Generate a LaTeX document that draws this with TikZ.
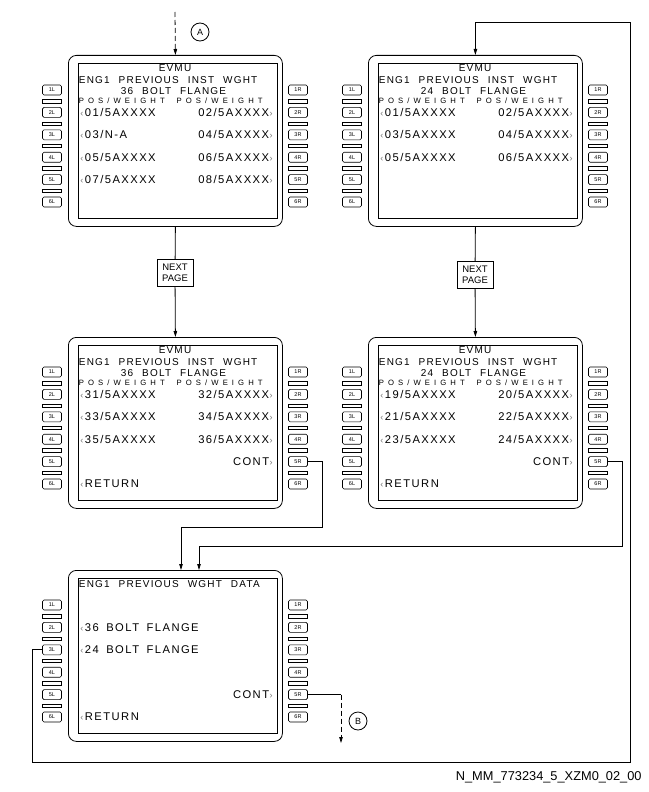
\documentclass[tikz,border=0pt]{standalone}
\usepackage{fontspec}
\usepackage{tikz}
\usetikzlibrary{arrows.meta,calc,positioning}
\setsansfont{Liberation Sans}
\newfontfamily\headfont[LetterSpace=12]{Liberation Sans}
\newfontfamily\rowfont[LetterSpace=13]{Liberation Sans}
\newfontfamily\posfont[LetterSpace=53]{Liberation Sans}
\newfontfamily\plainsans{Liberation Sans}
\newcommand{\headtext}{\headfont\fontsize{10}{11}\selectfont\spaceskip=9pt\relax}
\newcommand{\rowtext}{\rowfont\fontsize{11.2}{12}\selectfont\spaceskip=7.5pt\relax}
\newcommand{\lch}{{\plainsans\fontsize{9}{9}\selectfont\color{black!55}‹}\kern1.5pt}
\newcommand{\rch}{\kern0.5pt{\plainsans\fontsize{9}{9}\selectfont\color{black!55}›}}
% line select keys beside a display, #1 = prefix of the names
\newcommand{\cdukeys}[1]{%
  \foreach \i in {1,...,6} {%
    \node[lsk] (#1-L\i) at (-16,{35+22.4*(\i-1)}) {\i L};
    \node[lsk] (#1-R\i) at (230,{35+22.4*(\i-1)}) {\i R};
  }%
  \foreach \i in {1,...,5} {%
    \node[lskbar] (#1-lb\i) at (-16,{46.2+22.4*(\i-1)}) {};
    \node[lskbar] (#1-rb\i) at (230,{46.2+22.4*(\i-1)}) {};
  }%
}

\begin{document}
\begin{tikzpicture}[x=1pt,y=-1pt,line width=0.8pt]
        \tikzset{
          cdu/.style={draw, rounded corners=8pt, minimum width=214pt, minimum height=171pt, inner sep=0pt, anchor=north west},
          cduscreen/.style={draw, minimum width=199pt, minimum height=155pt, inner sep=0pt, anchor=north west},
          lsk/.style={draw, rounded corners=1.5pt, minimum width=19pt, minimum height=10pt, inner sep=0pt, line width=0.6pt, font=\fontsize{5.5}{5.5}\selectfont\sffamily},
          lskbar/.style={draw, minimum width=19pt, minimum height=3.5pt, inner sep=0pt, line width=0.6pt},
          scrmid/.style={inner sep=0pt, font=\headtext},
          scrhead/.style={scrmid, anchor=west},
          poshead/.style={inner sep=0pt, font=\posfont\fontsize{7.7}{8}\selectfont},
          lrow/.style={anchor=west, inner sep=0pt, font=\rowtext},
          rrow/.style={lrow, anchor=east},
          nextbox/.style={draw, align=center, minimum width=36pt, minimum height=27pt, inner sep=1pt, font=\plainsans\fontsize{9.5}{11}\selectfont},
          callout/.style={draw, circle, minimum size=18pt, inner sep=0pt, font=\plainsans\fontsize{9}{9}\selectfont},
          flow/.style={-{Triangle[length=6pt,width=3.5pt]}},
          dashline/.style={dash pattern=on 5pt off 3pt}
        }
        \useasboundingbox (0,0) rectangle (648,792);
        % top left display: 36 bolt flange, first page
        \begin{scope}[shift={(68,55)}]
        \node[cdu] (s1) at (0,0) {};
        \node[cduscreen] (s1-scr) at (10,8) {};
        \cdukeys{p1}
        \node[scrmid] (s1-t1) at (107,13) {EVMU};
        \node[scrhead] (s1-t2) at (10.5,25) {ENG1 PREVIOUS INST WGHT};
        \node[scrmid] (s1-t3) at (105.5,36) {36 BOLT FLANGE};
        \node[poshead, anchor=west] (s1-h1) at (10.5,46) {POS/WEIGHT};
        \node[poshead, anchor=east] (s1-h2) at (195,46) {POS/WEIGHT};
        \node[lrow] (s1-a2) at (12,57.4) {\lch 01/5AXXXX};
        \node[lrow] (s1-a3) at (12,79.8) {\lch 03/N-A};
        \node[lrow] (s1-a4) at (12,102.2) {\lch 05/5AXXXX};
        \node[lrow] (s1-a5) at (12,124.6) {\lch 07/5AXXXX};
        \node[rrow] (s1-b2) at (205,57.4) {02/5AXXXX\rch};
        \node[rrow] (s1-b3) at (205,79.8) {04/5AXXXX\rch};
        \node[rrow] (s1-b4) at (205,102.2) {06/5AXXXX\rch};
        \node[rrow] (s1-b5) at (205,124.6) {08/5AXXXX\rch};
        \end{scope}
        % top right display: 24 bolt flange, first page
        \begin{scope}[shift={(368,55)}]
        \node[cdu] (s2) at (0,0) {};
        \node[cduscreen] (s2-scr) at (10,8) {};
        \cdukeys{p2}
        \node[scrmid] (s2-t1) at (107,13) {EVMU};
        \node[scrhead] (s2-t2) at (10.5,25) {ENG1 PREVIOUS INST WGHT};
        \node[scrmid] (s2-t3) at (105.5,36) {24 BOLT FLANGE};
        \node[poshead, anchor=west] (s2-h1) at (10.5,46) {POS/WEIGHT};
        \node[poshead, anchor=east] (s2-h2) at (195,46) {POS/WEIGHT};
        \node[lrow] (s2-a2) at (12,57.4) {\lch 01/5AXXXX};
        \node[lrow] (s2-a3) at (12,79.8) {\lch 03/5AXXXX};
        \node[lrow] (s2-a4) at (12,102.2) {\lch 05/5AXXXX};
        \node[rrow] (s2-b2) at (205,57.4) {02/5AXXXX\rch};
        \node[rrow] (s2-b3) at (205,79.8) {04/5AXXXX\rch};
        \node[rrow] (s2-b4) at (205,102.2) {06/5AXXXX\rch};
        \end{scope}
        % middle left display: 36 bolt flange, last page
        \begin{scope}[shift={(68,337)}]
        \node[cdu] (s3) at (0,0) {};
        \node[cduscreen] (s3-scr) at (10,8) {};
        \cdukeys{p3}
        \node[scrmid] (s3-t1) at (107,13) {EVMU};
        \node[scrhead] (s3-t2) at (10.5,25) {ENG1 PREVIOUS INST WGHT};
        \node[scrmid] (s3-t3) at (105.5,36) {36 BOLT FLANGE};
        \node[poshead, anchor=west] (s3-h1) at (10.5,46) {POS/WEIGHT};
        \node[poshead, anchor=east] (s3-h2) at (195,46) {POS/WEIGHT};
        \node[lrow] (s3-a2) at (12,57.4) {\lch 31/5AXXXX};
        \node[lrow] (s3-a3) at (12,79.8) {\lch 33/5AXXXX};
        \node[lrow] (s3-a4) at (12,102.2) {\lch 35/5AXXXX};
        \node[lrow] (s3-a6) at (12,147) {\lch RETURN};
        \node[rrow] (s3-b2) at (205,57.4) {32/5AXXXX\rch};
        \node[rrow] (s3-b3) at (205,79.8) {34/5AXXXX\rch};
        \node[rrow] (s3-b4) at (205,102.2) {36/5AXXXX\rch};
        \node[rrow] (s3-b5) at (205,124.6) {CONT\rch};
        \end{scope}
        % middle right display: 24 bolt flange, last page
        \begin{scope}[shift={(368,337)}]
        \node[cdu] (s4) at (0,0) {};
        \node[cduscreen] (s4-scr) at (10,8) {};
        \cdukeys{p4}
        \node[scrmid] (s4-t1) at (107,13) {EVMU};
        \node[scrhead] (s4-t2) at (10.5,25) {ENG1 PREVIOUS INST WGHT};
        \node[scrmid] (s4-t3) at (105.5,36) {24 BOLT FLANGE};
        \node[poshead, anchor=west] (s4-h1) at (10.5,46) {POS/WEIGHT};
        \node[poshead, anchor=east] (s4-h2) at (195,46) {POS/WEIGHT};
        \node[lrow] (s4-a2) at (12,57.4) {\lch 19/5AXXXX};
        \node[lrow] (s4-a3) at (12,79.8) {\lch 21/5AXXXX};
        \node[lrow] (s4-a4) at (12,102.2) {\lch 23/5AXXXX};
        \node[lrow] (s4-a6) at (12,147) {\lch RETURN};
        \node[rrow] (s4-b2) at (205,57.4) {20/5AXXXX\rch};
        \node[rrow] (s4-b3) at (205,79.8) {22/5AXXXX\rch};
        \node[rrow] (s4-b4) at (205,102.2) {24/5AXXXX\rch};
        \node[rrow] (s4-b5) at (205,124.6) {CONT\rch};
        \end{scope}
        % bottom display: weight data menu
        \begin{scope}[shift={(68,570)}]
        \node[cdu] (s5) at (0,0) {};
        \node[cduscreen] (s5-scr) at (10,8) {};
        \cdukeys{p5}
        \node[scrhead] (s5-t1) at (10.5,14) {ENG1 PREVIOUS WGHT DATA};
        \node[lrow] (s5-a2) at (12,57.4) {\lch 36 BOLT FLANGE};
        \node[lrow] (s5-a3) at (12,79.8) {\lch 24 BOLT FLANGE};
        \node[lrow] (s5-a6) at (12,147) {\lch RETURN};
        \node[rrow] (s5-b5) at (205,124.6) {CONT\rch};
        \end{scope}
        % next page boxes
        \node[nextbox] (np1) at (175,273) {NEXT\\PAGE};
        \node[nextbox] (np2) at (475,275) {NEXT\\PAGE};
        \draw (s1.south) -- (np1);
        \draw[flow] (np1) -- (s3.north);
        \draw (s2.south) -- (np2);
        \draw[flow] (np2) -- (s4.north);
        % entry A
        \coordinate (a-in) at (175,12);
        \draw[flow, dashline] (a-in) -- (s1.north);
        \node[callout] (ca) at (200,32) {A};
        % CONT keys back to the menu
        \coordinate (c3) at (322,527);
        \coordinate (m3) at (181,570);
        \draw[flow] (p3-R5.east) -| (c3) -| (m3);
        \coordinate (c4) at (622,546);
        \coordinate (m4) at (199,570);
        \draw[flow] (p4-R5.east) -| (c4) -| (m4);
        % 24 bolt flange key up to the top right display
        \coordinate (lp1) at (32,762);
        \coordinate (lp2) at (630,22);
        \draw[flow] (p5-L3.west) -| (lp1) -| (lp2) -| (s2.north);
        % exit B
        \coordinate (b-end) at (341,743);
        \draw (p5-R5.east) -- (p5-R5.east -| b-end) coordinate (b-turn);
        \draw[flow, dashline] (b-turn) -- (b-end);
        \node[callout] (cb) at (358,721) {B};
        % drawing number
        \node[anchor=east, inner sep=0pt, font=\plainsans\fontsize{12.8}{13}\selectfont] (dwg) at (642,777) {N\_MM\_773234\_5\_XZM0\_02\_00};
    \end{tikzpicture}
\end{document}
